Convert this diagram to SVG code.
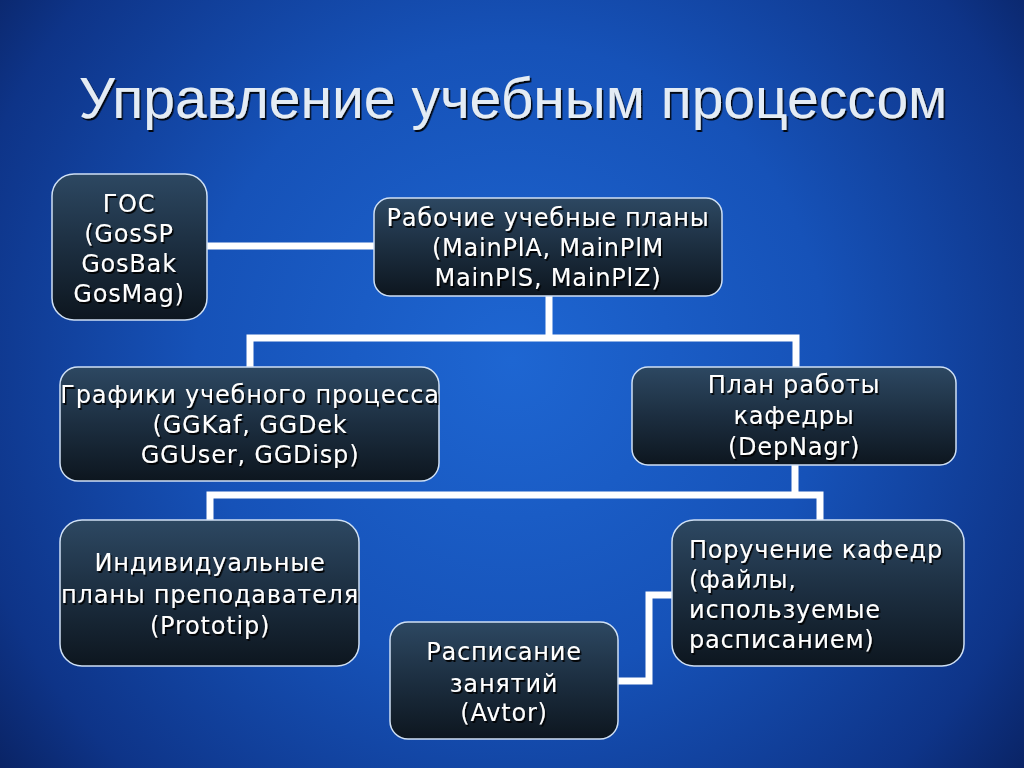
<svg xmlns="http://www.w3.org/2000/svg" width="1024" height="768" viewBox="0 0 1024 768">
<defs>
<radialGradient id="bg" cx="512" cy="360" r="700" gradientUnits="userSpaceOnUse">
<stop offset="0" stop-color="#1e66d2"/>
<stop offset="0.45" stop-color="#1652b8"/>
<stop offset="0.8" stop-color="#0e3488"/>
<stop offset="1" stop-color="#081c55"/>
</radialGradient>
<linearGradient id="nodefill" x1="0" y1="0" x2="0" y2="1">
<stop offset="0" stop-color="#2d4862"/>
<stop offset="0.5" stop-color="#1c2e40"/>
<stop offset="1" stop-color="#0d161f"/>
</linearGradient>
<filter id="sh" x="-10%" y="-20%" width="120%" height="150%">
<feDropShadow dx="1.5" dy="2" stdDeviation="0.6" flood-color="#000" flood-opacity="0.9"/>
</filter>
</defs>
<style>
.node rect{fill:url(#nodefill);stroke:#cfe0f5;stroke-width:1.5}
.node text{font-family:"DejaVu Sans","Noto Sans",sans-serif;font-size:24px;fill:#ffffff;text-anchor:middle;letter-spacing:0.8px;filter:url(#sh)}
.node text.l{text-anchor:start}
.conn path{fill:none;stroke:#ffffff;stroke-width:7;stroke-linejoin:miter;stroke-linecap:butt}
.title{font-family:"Liberation Sans",Arial,sans-serif;font-size:57px;fill:#e4ecf4;text-anchor:middle;filter:url(#sh)}
</style>
<rect width="1024" height="768" fill="url(#bg)"/>
<text class="title" x="513" y="118">Управление учебным процессом</text>
<g class="conn" id="connectors">
<path d="M207 246 H375"/>
<path d="M549 296 V338 M250 367 V338 H796 V367"/>
<path d="M795 465 V495 M210 520 V495 H820 V520"/>
<path d="M618 681 H649 V595 H672"/>
</g>
<g class="node" id="gos">
<rect x="52" y="174" width="155" height="146" rx="22"/>
<text x="129" y="212">ГОС</text>
<text x="129" y="242">(GosSP</text>
<text x="129" y="272">GosBak</text>
<text x="129" y="302">GosMag)</text>
</g>
<g class="node" id="plans">
<rect x="374" y="198" width="348" height="98" rx="16"/>
<text x="548" y="226">Рабочие учебные планы</text>
<text x="548" y="256">(MainPlA, MainPlM</text>
<text x="548" y="286">MainPlS, MainPlZ)</text>
</g>
<g class="node" id="graphs">
<rect x="60" y="367" width="379" height="114" rx="18"/>
<text x="250" y="403">Графики учебного процесса</text>
<text x="250" y="433">(GGKaf, GGDek</text>
<text x="250" y="463">GGUser, GGDisp)</text>
</g>
<g class="node" id="deplan">
<rect x="632" y="367" width="324" height="98" rx="16"/>
<text x="794" y="393">План работы</text>
<text x="794" y="424">кафедры</text>
<text x="794" y="455">(DepNagr)</text>
</g>
<g class="node" id="indiv">
<rect x="60" y="520" width="299" height="146" rx="22"/>
<text x="210" y="571">Индивидуальные</text>
<text x="210" y="603">планы преподавателя</text>
<text x="210" y="634">(Prototip)</text>
</g>
<g class="node" id="poruch">
<rect x="672" y="520" width="292" height="146" rx="22"/>
<text class="l" x="689" y="558">Поручение кафедр</text>
<text class="l" x="689" y="588">(файлы,</text>
<text class="l" x="689" y="618">используемые</text>
<text class="l" x="689" y="648">расписанием)</text>
</g>
<g class="node" id="rasp">
<rect x="390" y="622" width="228" height="117" rx="18"/>
<text x="504" y="660">Расписание</text>
<text x="504" y="692">занятий</text>
<text x="504" y="721">(Avtor)</text>
</g>
</svg>
